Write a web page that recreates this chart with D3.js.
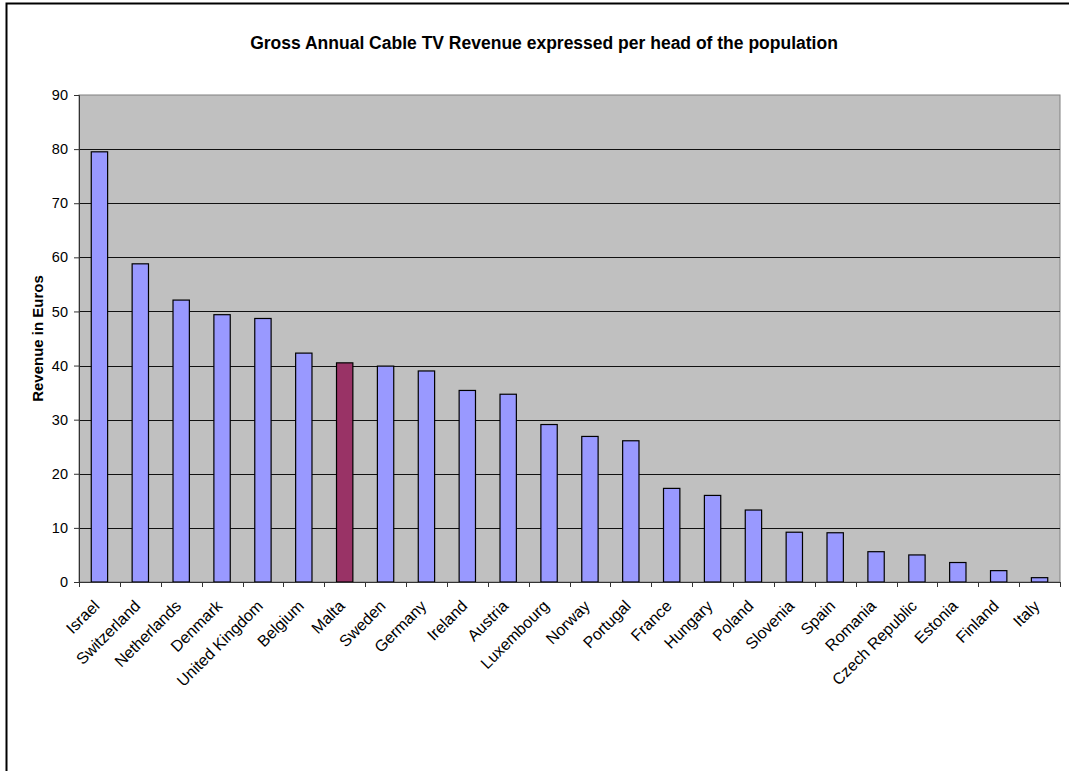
<!DOCTYPE html>
<html>
<head>
<meta charset="utf-8">
<script src="https://cdn.jsdelivr.net/npm/d3@7"></script>
<style>
  html, body { margin: 0; padding: 0; background: #fff; }
  svg { display: block; font-family: Arial, "Liberation Sans", sans-serif; }
</style>
</head>
<body>
<svg id="chart" width="1069" height="771"></svg>
<script>
// Gross annual cable TV revenue per head of population, by country (EUR)
const countries = ["Israel", "Switzerland", "Netherlands", "Denmark", "United Kingdom", "Belgium",
  "Malta", "Sweden", "Germany", "Ireland", "Austria", "Luxembourg", "Norway", "Portugal",
  "France", "Hungary", "Poland", "Slovenia", "Spain", "Romania", "Czech Republic",
  "Estonia", "Finland", "Italy"];
const revenue = [79.5, 58.8, 52.1, 49.4, 48.7, 42.3,
  40.5, 39.9, 39.0, 35.4, 34.7, 29.1, 26.9, 26.1,
  17.3, 16.0, 13.3, 9.2, 9.1, 5.6, 5.0,
  3.6, 2.1, 0.8];
const yTicks = [0, 10, 20, 30, 40, 50, 60, 70, 80, 90];
const highlight = "Malta";

const title = "Gross Annual Cable TV Revenue expressed per head of the population";
const yTitle = "Revenue in Euros";

const svg = d3.select("#chart");
const W = 1069, H = 771;
const plot = { left: 79, right: 1060, top: 95, bottom: 582 };

// outer frame (extends past the right and bottom edges)
svg.append("rect")
  .attr("x", 6.5).attr("y", 3.5)
  .attr("width", W + 10).attr("height", H + 10)
  .attr("fill", "#fff").attr("stroke", "#000").attr("stroke-width", 2);

const x = d3.scaleBand()
  .domain(countries)
  .range([plot.left, plot.right])
  .paddingInner(0.6).paddingOuter(0.3);

const y = d3.scaleLinear().domain([0, 90]).range([plot.bottom, plot.top]);

// plot background
svg.append("rect")
  .attr("x", plot.left).attr("y", plot.top)
  .attr("width", plot.right - plot.left).attr("height", plot.bottom - plot.top)
  .attr("fill", "#C0C0C0").attr("stroke", "#808080").attr("stroke-width", 1);

// horizontal gridlines
svg.append("g")
  .selectAll("line")
  .data(yTicks.filter(t => t > 0 && t < 90))
  .join("line")
  .attr("x1", plot.left).attr("x2", plot.right)
  .attr("y1", d => Math.round(y(d)) + 0.5).attr("y2", d => Math.round(y(d)) + 0.5)
  .attr("stroke", "#111").attr("stroke-width", 1);

// bars
svg.append("g")
  .selectAll("rect")
  .data(countries.map((c, i) => ({ c, v: revenue[i] })))
  .join("rect")
  .attr("x", d => x(d.c))
  .attr("y", d => y(d.v))
  .attr("width", x.bandwidth())
  .attr("height", d => y(0) - y(d.v))
  .attr("fill", d => d.c === highlight ? "#993366" : "#9999FF")
  .attr("stroke", "#000").attr("stroke-width", 1.2);

// y axis
const yAxis = svg.append("g")
  .attr("transform", `translate(${plot.left},0)`)
  .call(d3.axisLeft(y).tickValues(yTicks).tickSize(5).tickPadding(6).tickFormat(d3.format("d")));
yAxis.select(".domain").attr("stroke", "#333");
yAxis.selectAll(".tick line").attr("stroke", "#333");
yAxis.selectAll("text")
  .attr("font-size", 14.5).attr("fill", "#000")
  .attr("font-family", "Arial, 'Liberation Sans', sans-serif");

// x axis: ticks sit on the band boundaries
const boundaries = d3.range(countries.length + 1).map(i => plot.left + i * (plot.right - plot.left) / countries.length);
const xg = svg.append("g");
xg.append("line")
  .attr("x1", plot.left).attr("x2", plot.right)
  .attr("y1", plot.bottom + 0.5).attr("y2", plot.bottom + 0.5)
  .attr("stroke", "#333");
xg.selectAll("line.tk")
  .data(boundaries)
  .join("line").attr("class", "tk")
  .attr("x1", d => Math.round(d) + 0.5).attr("x2", d => Math.round(d) + 0.5)
  .attr("y1", plot.bottom).attr("y2", plot.bottom + 5)
  .attr("stroke", "#333");

// rotated category labels
xg.selectAll("text")
  .data(countries)
  .join("text")
  .attr("transform", d => `translate(${x(d) + x.bandwidth() / 2 + 1},${plot.bottom + 25}) rotate(-45)`)
  .attr("text-anchor", "end")
  .attr("font-size", 16)
  .attr("fill", "#000")
  .text(d => d);

// title
svg.append("text")
  .attr("x", 544).attr("y", 49)
  .attr("text-anchor", "middle")
  .attr("font-size", 17.5).attr("font-weight", "bold")
  .text(title);

// y axis title
svg.append("text")
  .attr("transform", `translate(43,${(plot.top + plot.bottom) / 2}) rotate(-90)`)
  .attr("text-anchor", "middle")
  .attr("font-size", 15).attr("font-weight", "bold")
  .text(yTitle);
</script>
</body>
</html>
